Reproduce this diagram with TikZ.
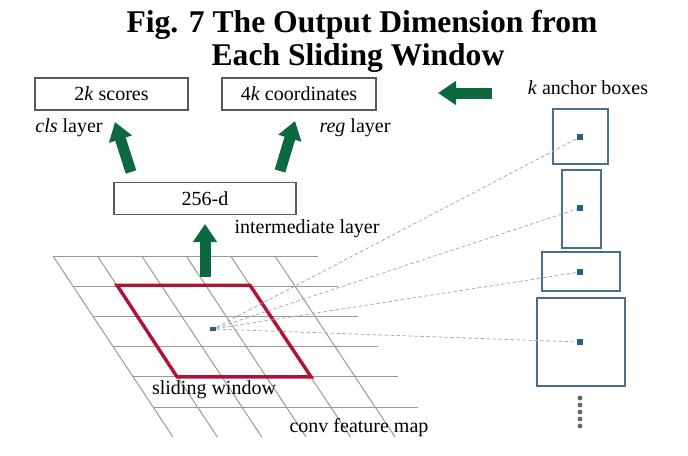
\documentclass[tikz,border=0pt]{standalone}
\usepackage{fontspec}
\setmainfont{Liberation Serif}
\usetikzlibrary{positioning}
\usetikzlibrary{arrows.meta}
\definecolor{arrowgreen}{RGB}{12,104,62}
\definecolor{windowred}{RGB}{176,18,52}
\definecolor{anchorblue}{RGB}{72,112,140}
\definecolor{dotblue}{RGB}{40,95,140}

\begin{document}
\begin{tikzpicture}[
  x=0.5pt, y=-0.5pt,
  font=\fontsize{10}{12}\selectfont,
  box/.style={draw=black!65, line width=0.7pt, minimum height=16pt, inner sep=0pt},
  anchorbox/.style={draw=anchorblue, line width=0.8pt, inner sep=0pt},
  adot/.style={fill=dotblue, inner sep=0pt, minimum size=2.6pt},
  vdot/.style={circle, fill=black!60, inner sep=0pt, minimum size=2.4pt},
  bigarrow/.style={draw=arrowgreen, line width=5.5pt, -{Triangle[length=9pt, width=11.5pt]}},
  ray/.style={draw=anchorblue!55, line width=0.4pt, dash pattern=on 1.8pt off 1.2pt},
  gridline/.style={black!40, line width=0.5pt},
  title/.style={font=\fontsize{15.8}{16.5}\selectfont\bfseries, anchor=base}
]
\useasboundingbox (0,0) rectangle (688,455);

\node[title] (title1) at (362,32) {Fig. 7 The Output Dimension from};
\node[title] (title2) at (358,65) {Each Sliding Window};

% conv feature map
\foreach \i in {0,...,5}
  \draw[gridline] (53+20*\i, 256+30.2*\i) -- (318+20*\i, 256+30.2*\i);
\foreach \j in {0,...,5}
  \draw[gridline] (53+44.4*\j, 256) -- (173+44.4*\j, 437);
\draw[windowred, line width=1.7pt, line join=miter] (117,285.2) -- (250,285.2) -- (311,376.8) -- (177,376.8) -- cycle;
\node[fill=dotblue, inner sep=0pt, minimum width=3.2pt, minimum height=2pt] (c) at (213,329) {};

\node (slide) at (214,390) {sliding window};
\node (fmap) at (359,428) {conv feature map};

% layers
\node[box, minimum width=91pt]   (mid) at (205,198.5) {256-d};
\node[box, minimum width=76.5pt] (cls) at (111.5,94) {2\textit{k} scores};
\node[box, minimum width=77pt]   (reg) at (299,94) {4\textit{k} coordinates};
\node (midlab) at (307,229) {intermediate layer};
\node (clslab) at (69,128) {\textit{cls} layer};
\node (reglab) at (355,128) {\textit{reg} layer};

\coordinate (up0) at (205,277);  \coordinate (up1) at (205,224);
\coordinate (cls0) at (131,172); \coordinate (cls1) at (115,122);
\coordinate (reg0) at (280,171); \coordinate (reg1) at (295,121);
\coordinate (anc0) at (492,93);  \coordinate (anc1) at (438,93);
\draw[bigarrow] (up0) -- (up1);
\draw[bigarrow] (cls0) -- (cls1);
\draw[bigarrow] (reg0) -- (reg1);
\draw[bigarrow] (anc0) -- (anc1);

% anchor boxes
\node (anclab) at (588,88) {\textit{k} anchor boxes};
\node[adot] (d1) at (580,137) {};
\node[adot] (d2) at (580,208) {};
\node[adot] (d3) at (580,272) {};
\node[adot] (d4) at (580,342) {};
\node[anchorbox, minimum width=27.5pt, minimum height=27.5pt] (b1) at (580.5,136.5) {};
\node[anchorbox, minimum width=19.5pt, minimum height=39pt]   (b2) at (581.5,209) {};
\node[anchorbox, minimum width=39pt,   minimum height=19.5pt] (b3) at (581,271.5) {};
\node[anchorbox, minimum width=44pt,   minimum height=44pt]   (b4) at (581,342) {};
\foreach \k in {1,...,4}
  \draw[ray] (c) -- (d\k);
\foreach \k in {0,...,4}
  \node[vdot] (v\k) at (580,398+7*\k) {};

\end{tikzpicture}
\end{document}
